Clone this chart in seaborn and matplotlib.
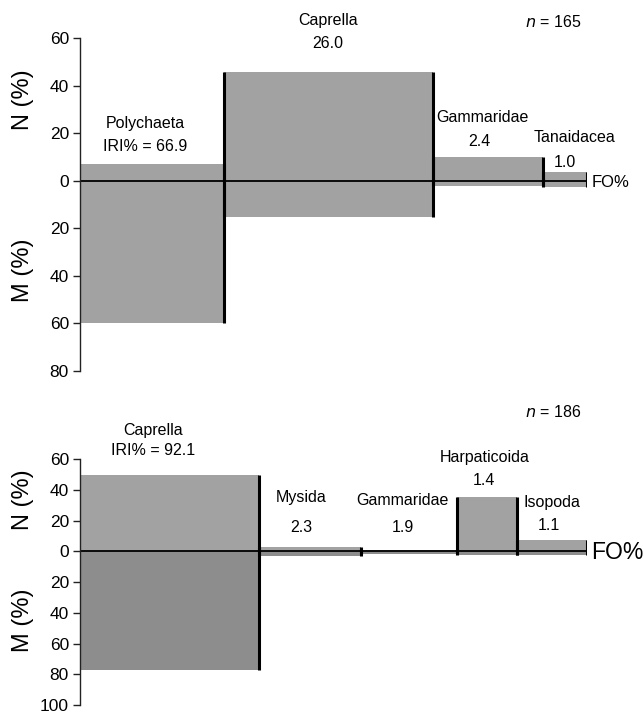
import numpy as np
import pandas as pd
import seaborn as sns
import matplotlib
matplotlib.use("Agg")
import matplotlib.pyplot as plt

sns.set_theme(style="ticks")
plt.rcParams["font.family"] = ["Liberation Sans", "DejaVu Sans"]
plt.rcParams["text.color"] = "black"
plt.rcParams["ytick.color"] = "black"
plt.rcParams["ytick.labelcolor"] = "black"

# ---- data ----
# upper panel (n = 165)
top_prey = ["Polychaeta", "Caprella", "Gammaridae", "Tanaidacea"]
top_fo = [41.0, 59.5, 31.5, 12.5]      # bar widths (FO%)
top_n = [7.0, 46.0, 10.0, 3.6]         # N (%) upwards
top_m = [60.0, 15.0, 2.3, 2.4]         # M (%) downwards
top_iri = ["IRI% = 66.9", "26.0", "2.4", "1.0"]
top_count = "165"

# lower panel (n = 186)
bot_prey = ["Caprella", "Mysida", "Gammaridae", "Harpaticoida", "Isopoda"]
bot_fo = [51.0, 29.0, 27.5, 17.0, 20.0]
bot_n = [50.0, 2.8, 1.2, 35.5, 7.2]
bot_m = [77.5, 3.2, 1.6, 2.2, 2.0]
bot_iri = ["IRI% = 92.1", "2.3", "1.9", "1.4", "1.1"]
bot_count = "186"

# label placement (data units): name x, name y, value x, value y
top_lab_pos = [(18.5, 24.3, 18.5, 14.4), (70.7, 67.7, 70.7, 58.0),
               (114.7, 26.5, 113.7, 16.4), (140.8, 18.1, 138.2, 7.9)]
bot_lab_pos = [(20.8, 78.8, 20.8, 65.8), (63.0, 35.4, 63.0, 15.8),
               (91.9, 33.2, 92.1, 15.8), (115.4, 61.4, 115.1, 46.3),
               (134.6, 32.1, 133.7, 16.9)]

W, H = 644, 715
fig = plt.figure(figsize=(W / 100, H / 100), dpi=100)
fig.patch.set_facecolor("white")

LIGHT = "#a2a2a2"
DARK = "#8d8d8d"


def panel(rect, prey, fo, n, m, iri, lab_pos, ylow, yticks, count, count_y, fo_size, down_col):
    ax = fig.add_axes(rect)
    df = pd.DataFrame({"prey": prey, "fo": fo, "n": n, "m": m})
    df["left"] = df["fo"].cumsum() - df["fo"]
    df["right"] = df["fo"].cumsum()
    total = df["right"].iloc[-1]

    ax.bar(df["left"], df["n"], width=df["fo"], align="edge", color=LIGHT, linewidth=0, zorder=1)
    ax.bar(df["left"], -df["m"], width=df["fo"], align="edge", color=down_col, linewidth=0, zorder=1)

    # thick black edges on both sides of each bar (not on the axis itself)
    for i, r in df.iterrows():
        if i > 0:
            ax.vlines(r["left"], -r["m"], r["n"], color="black", lw=2.2, zorder=3)
        ax.vlines(r["right"], -r["m"], r["n"], color="black", lw=2.2, zorder=3)
    ax.hlines(0, 0, total, color="black", lw=1.3, zorder=2)

    for (nx, ny, vx, vy), name, val in zip(lab_pos, prey, iri):
        ax.text(nx, ny, name, ha="center", va="center", fontsize=11.5, clip_on=False)
        ax.text(vx, vy, val, ha="center", va="center", fontsize=11.5, clip_on=False)

    ax.text(134.8, count_y, r"$\mathit{n}$ = " + count, ha="center", va="center",
            fontsize=11.5, clip_on=False)
    ax.text(total + 1.2, -0.8, "FO%", ha="left", va="center", fontsize=fo_size, clip_on=False)

    ax.set_xlim(0, total)
    ax.set_ylim(ylow, 60)
    ax.set_yticks(yticks)
    ax.set_yticklabels([str(abs(int(t))) for t in yticks], fontsize=12.5)
    ax.set_xticks([])
    sns.despine(ax=ax, top=True, right=True, bottom=True)
    ax.spines["left"].set_color("#222222")
    ax.spines["left"].set_linewidth(1.0)
    ax.tick_params(axis="y", left=True, direction="out", length=5, width=1.0,
                   color="#222222", pad=3)
    ax.patch.set_alpha(0)
    return ax


left = 80 / W
width = (587 - 80) / W

ax1 = panel([left, 1 - 371 / H, width, (371 - 38.3) / H], top_prey, top_fo, top_n, top_m,
            top_iri, top_lab_pos, -80, np.arange(-80, 61, 20), top_count, 67.0, 12, LIGHT)
ax2 = panel([left, 1 - 705 / H, width, (705 - 459.3) / H], bot_prey, bot_fo, bot_n, bot_m,
            bot_iri, bot_lab_pos, -100, np.arange(-100, 61, 20), bot_count, 90.8, 16.5, DARK)

# axis titles
for y_px, txt in [(100, "N (%)"), (270, "M (%)"), (500, "N (%)"), (620, "M (%)")]:
    fig.text(23 / W, 1 - y_px / H, txt, rotation=90, ha="center", va="center", fontsize=17)

fig.savefig("out.png", dpi=100, facecolor="white")
